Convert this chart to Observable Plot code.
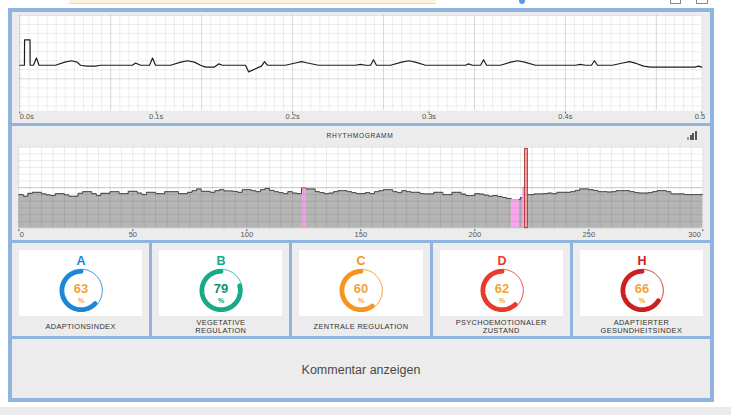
<!DOCTYPE html>
<html><head><meta charset="utf-8">
<script src="https://cdn.jsdelivr.net/npm/d3@7"></script>
<script src="https://cdn.jsdelivr.net/npm/@observablehq/plot@0.6"></script>
<style>
html,body{margin:0;padding:0;width:731px;height:415px;overflow:hidden;background:#fff;font-family:"Liberation Sans",Arial,sans-serif;}
#root{position:relative;width:731px;height:415px;}
.a{position:absolute;}
.blue{background:#8fb5de;}
.gray{background:#ececec;}
.lbl{position:absolute;text-align:center;font-size:7.4px;letter-spacing:0.35px;color:#333;line-height:8px;}
svg{overflow:visible}
</style></head>
<body><div id="root"></div>
<script>
// ---------- DATA ----------
const ecgTime = [0,0.0034,0.0035,0.0075,0.0076,0.0100,0.0122,0.0141,0.0262,0.0330,0.0379,0.0420,0.0445,0.0489,0.0555,0.0592,0.0826,0.0848,0.0885,0.0951,0.0973,0.0995,0.1105,0.1180,0.1229,0.1280,0.1325,0.1361,0.1427,0.1457,0.1486,0.1655,0.1677,0.1772,0.1794,0.1816,0.1948,0.2020,0.2065,0.2110,0.2190,0.2461,0.2498,0.2535,0.2572,0.2593,0.2615,0.2718,0.2800,0.2850,0.2900,0.2974,0.3268,0.3289,0.3319,0.3378,0.3400,0.3422,0.3524,0.3600,0.3649,0.3700,0.3781,0.4074,0.4111,0.4147,0.4191,0.4213,0.4235,0.4345,0.4420,0.4470,0.4520,0.4573,0.4624,0.4950,0.4975,0.5];
const ecgMv   = [0.15,0.15,0.43,0.43,0.15,0.15,0.23,0.15,0.15,0.185,0.20,0.185,0.15,0.14,0.14,0.15,0.15,0.175,0.15,0.15,0.23,0.15,0.15,0.185,0.20,0.185,0.15,0.13,0.13,0.165,0.15,0.15,0.077,0.14,0.19,0.15,0.15,0.175,0.19,0.175,0.15,0.15,0.16,0.15,0.15,0.21,0.15,0.15,0.185,0.20,0.185,0.15,0.15,0.165,0.15,0.15,0.21,0.15,0.15,0.185,0.20,0.185,0.15,0.15,0.16,0.15,0.15,0.20,0.15,0.15,0.175,0.19,0.17,0.14,0.13,0.13,0.14,0.13];
const ecgTicks = [0,0.1,0.2,0.3,0.4,0.5];

const rrMs = [497,473,516,531,531,508,493,483,512,512,
493,473,473,516,541,541,512,483,516,516,
541,541,512,512,546,546,520,497,531,531,
512,512,541,541,541,512,512,531,556,581,
546,546,531,556,571,552,552,545,531,571,
571,556,541,571,590,560,541,527,512,541,
520,512,595,581,581,541,527,512,520,541,
556,556,541,527,512,512,527,512,541,556,
571,571,541,527,556,541,531,531,512,508,
508,531,531,497,497,531,531,505,483,483,
512,505,490,475,483,470,455,440,424,424,
454,497,497,508,508,512,520,512,531,531,
531,541,560,581,581,571,560,541,541,535,
541,556,556,556,541,527,520,520,527,541,
556,556,541,508,508,508,497,497,497,497,
497];
const rrBeat = rrMs.map((d,i)=>i*2);
const artifactFrom = [124.5,216,221];
const artifactTo   = [126,219.5,222];
const artifactMs   = [595,424,604];
const spikeFrom = [222], spikeTo = [223.3], spikeMs = [1175];
const rrTicks = [0,50,100,150,200,250,300];

const gaugeLetters = ["A","B","C","D","H"];
const gaugeValues  = [63,79,60,62,66];
const gaugeLabels  = [["ADAPTIONSINDEX"],["VEGETATIVE","REGULATION"],["ZENTRALE REGULATION"],["PSYCHOEMOTIONALER","ZUSTAND"],["ADAPTIERTER","GESUNDHEITSINDEX"]];
const gaugeColors  = ["#1b87d6","#17a98a","#f7941d","#ea3a2c","#cc2020"];
const numberColors = ["#f2a33a","#13906f","#f2a33a","#f2a33a","#f2a33a"];
const commentText = "Kommentar anzeigen";

// ---------- LAYOUT ----------
const root = document.getElementById("root");
function box(cls, l, t, w, h, extra) {
  const d = document.createElement("div");
  d.className = "a " + (cls||"");
  Object.assign(d.style, {left:l+"px", top:t+"px", width:w+"px", height:h+"px"}, extra||{});
  root.appendChild(d); return d;
}
// top strip
box("", 69, 0, 367, 2.5, {background:"#fdf3dc", borderBottom:"1px solid #f0dcab"});
box("", 519, 0, 6, 4, {background:"#5e9ad8", borderRadius:"0 0 3px 3px"});
box("", 670, 0, 11, 4, {border:"1px solid #888", borderTop:"none", boxSizing:"border-box"});
box("", 696, 0, 12, 4, {border:"1px solid #888", borderTop:"none", boxSizing:"border-box"});
// frame
box("blue", 8, 8, 706, 394);
box("gray", 12, 12, 698, 386);
box("blue", 12, 123, 698, 3);
box("blue", 12, 240, 698, 3);
box("blue", 12, 336, 698, 3);
box("", 0, 407, 731, 8, {background:"#ebebeb"});

const font = "Liberation Sans, Arial, sans-serif";

// ---------- ECG ----------
const ecg = ecgTime.map((t,i)=>({t, v: ecgMv[i]}));
const ecgPlot = Plot.plot({
  width: 693, height: 111,
  marginLeft: 7.3, marginRight: 3.7, marginTop: 3, marginBottom: 13,
  x: {domain: [0, 0.5], axis: null},
  y: {domain: [-0.35, 0.7], axis: null},
  style: {fontFamily: font, background: "transparent", overflow: "visible"},
  marks: [
    Plot.frame({fill: "white", stroke: null}),
    Plot.gridX({ticks: d3.range(0, 0.5001, 1/150), stroke: "#000", strokeOpacity: 0.07}),
    Plot.gridX({ticks: d3.range(0, 0.5001, 1/15), stroke: "#000", strokeOpacity: 0.09}),
    Plot.gridY({ticks: d3.range(-0.3, 0.701, 0.1), stroke: "#000", strokeOpacity: 0.07}),
    Plot.gridY({ticks: [0], stroke: "#000", strokeOpacity: 0.09}),
    Plot.line(ecg, {x: "t", y: "v", stroke: "#1e1e1e", strokeWidth: 1.2}),
    Plot.ruleX(ecgTicks, {x: d=>d, insetTop: 93, dy: 3.5, stroke: "#555"}),
    Plot.text(ecgTicks.slice(0,1), {x: d=>d, frameAnchor: "bottom", dy: 8, text: d=>d.toFixed(1)+"s", textAnchor: "start", fontSize: 7.5, fill: "#555"}),
    Plot.text(ecgTicks.slice(1), {x: d=>d, frameAnchor: "bottom", dy: 8, text: d=>d.toFixed(1)+"s", textAnchor: "middle", fontSize: 7.5, fill: "#555"})
  ]
});
const ecgWrap = box("", 12, 12, 693, 111, {overflow:"hidden"});
ecgWrap.appendChild(ecgPlot);

// ---------- RHYTHMOGRAMM ----------
const rr = rrBeat.map((b,i)=>({b, ms: rrMs[i]}));
const arts = artifactFrom.map((f,i)=>({f, t: artifactTo[i], ms: artifactMs[i]}));
const spikes = spikeFrom.map((f,i)=>({f, t: spikeTo[i], ms: spikeMs[i]}));
const rrPlot = Plot.plot({
  width: 696, height: 115,
  marginLeft: 6.3, marginRight: 5.7, marginTop: 20.7, marginBottom: 13.3,
  x: {domain: [0, 300], axis: null},
  y: {domain: [0, 1200], axis: null},
  style: {fontFamily: font, background: "transparent", overflow: "visible"},
  marks: [
    Plot.frame({fill: "white", stroke: null}),
    Plot.areaY(rr, {x: "b", y: "ms", curve: "step-after", fill: "#b5b5b5"}),
    Plot.lineY(rr, {x: "b", y: "ms", curve: "step-after", stroke: "#474747", strokeWidth: 1}),
    Plot.rectY(arts, {x1: "f", x2: "t", y1: 0, y2: "ms", fill: "#f7a6ee"}),
    Plot.rectY(spikes, {x1: "f", x2: "t", y1: 0, y2: "ms", fill: "#f3a0a0", stroke: "#b03a3a", strokeWidth: 0.9}),
    Plot.gridX({ticks: d3.range(0, 301, 5), stroke: "#000", strokeOpacity: 0.08}),
    Plot.gridY({ticks: d3.range(0, 1201, 100), stroke: "#000", strokeOpacity: 0.08}),
    Plot.gridY({ticks: [600], stroke: "#000", strokeOpacity: 0.16}),
    Plot.ruleX(rrTicks, {x: d=>d, insetTop: 79, dy: 3.5, stroke: "#555"}),
    Plot.text(rrTicks.slice(0,1), {x: d=>d, frameAnchor: "bottom", dy: 8.3, text: d=>String(d), textAnchor: "start", dx: 1, fontSize: 7.5, fill: "#555"}),
    Plot.text(rrTicks.slice(1,-1), {x: d=>d, frameAnchor: "bottom", dy: 8.3, text: d=>String(d), textAnchor: "middle", fontSize: 7.5, fill: "#555"}),
    Plot.text(rrTicks.slice(-1), {x: d=>d, frameAnchor: "bottom", dy: 8.3, text: d=>String(d), textAnchor: "end", dx: -2, fontSize: 7.5, fill: "#555"})
  ]
});
const rrWrap = box("", 12, 126, 696, 115);
rrWrap.appendChild(rrPlot);
const title = box("", 12, 131, 696, 9, {textAlign:"center", fontSize:"6.6px", letterSpacing:"0.7px", color:"#333", lineHeight:"9px"});
title.textContent = "RHYTHMOGRAMM";
[3,5,7,9].forEach((h,i)=>box("", 687+i*2.6, 140-h, 2, h, {background: i===0 ? "#999" : "#555"}));

// ---------- GAUGES ----------
const cellW = 137.2;
gaugeValues.forEach((v, i) => {
  const cl = 12 + i*(cellW+3);
  if (i>0) box("blue", cl-3, 243, 3, 93);
  const bl = cl + 7, bw = cellW - 14;
  const wb = box("", bl, 250, bw, 66, {background:"#fff"});
  const end = v/100*2*Math.PI;
  const arcPts = (a0,a1,r) => d3.range(0,81).map(k => { const a = a0+(a1-a0)*k/80; return {x: -Math.sin(a)*r, y: Math.cos(a)*r}; });
  const g = Plot.plot({
    width: bw, height: 66, margin: 0,
    x: {domain: [-bw/40, bw/40], axis: null},
    y: {domain: [-1.3, 2.0], axis: null},
    style: {fontFamily: font, background: "transparent", overflow: "visible"},
    marks: [
      Plot.line(arcPts(end, 2*Math.PI, 1.06), {x: "x", y: "y", stroke: gaugeColors[i], strokeWidth: 1}),
      Plot.line(arcPts(0, end, 0.96), {x: "x", y: "y", stroke: gaugeColors[i], strokeWidth: 4.8}),
      Plot.text([gaugeLetters[i]], {x: ()=>0, y: ()=>1.45, text: d=>d, fill: gaugeColors[i], fontSize: 12.5, fontWeight: "bold", lineAnchor: "middle"}),
      Plot.text([v], {x: ()=>0, y: ()=>0.1, text: d=>String(d), fill: numberColors[i], fontSize: 13, fontWeight: "bold", lineAnchor: "middle"}),
      Plot.text(["%"], {x: ()=>0, y: ()=>-0.5, text: d=>d, fill: numberColors[i], fontSize: 7, fontWeight: "bold", lineAnchor: "middle"})
    ]
  });
  wb.appendChild(g);
  const lines = gaugeLabels[i];
  const lb = document.createElement("div");
  lb.className = "lbl";
  Object.assign(lb.style, {left: cl+"px", width: cellW+"px", top: (lines.length===1 ? 323 : 319)+"px"});
  lb.innerHTML = lines.join("<br>");
  root.appendChild(lb);
});

// ---------- COMMENT ----------
const cm = box("", 12, 362, 698, 16, {textAlign:"center", fontSize:"12.5px", color:"#4a4a4a", lineHeight:"16px"});
cm.textContent = commentText;
</script>
</body></html>
